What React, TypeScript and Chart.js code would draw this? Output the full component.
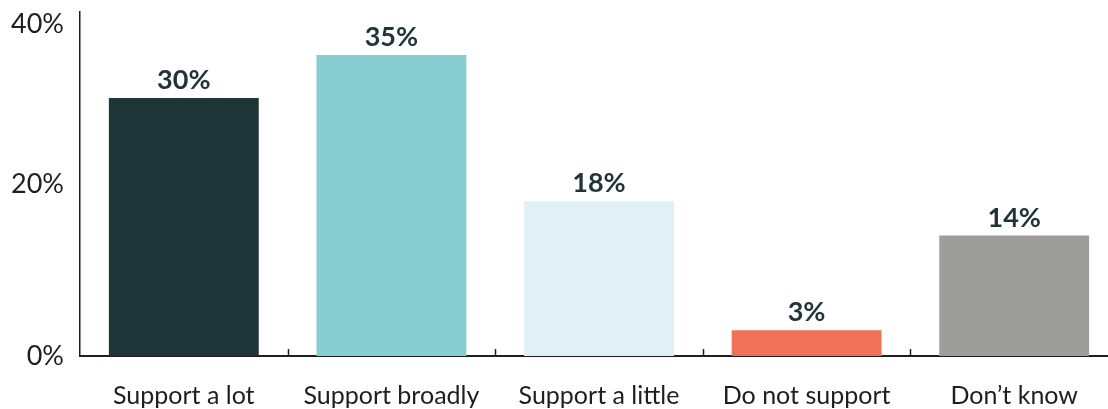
import React, { useEffect, useRef } from "react";
import { Chart, registerables } from "chart.js";

Chart.register(...registerables);

const categories = ["Support a lot", "Support broadly", "Support a little", "Do not support", "Don’t know"];
const values = [30, 35, 18, 3, 14];
const barColors = ["#1f3538", "#88cdd1", "#e0f0f6", "#ef7158", "#9d9d9c"];
const yTickValues = [0, 20, 40];

const FONT = "Lato, 'Noto Sans', sans-serif";
const AXIS_COLOR = "#1e1e1e";
const TEXT_COLOR = "#1e1e1e";
const LABEL_COLOR = "#1f3538";

export default function App() {
  const ref = useRef<HTMLCanvasElement>(null);

  useEffect(() => {
    document.body.style.margin = "0";
    const canvas = ref.current;
    if (!canvas) return;

    const overlay = {
      id: "overlay",
      afterDatasetsDraw(chart: any) {
        const ctx = chart.ctx;
        const meta = chart.getDatasetMeta(0);
        ctx.save();
        ctx.fillStyle = LABEL_COLOR;
        ctx.font = `bold 27px ${FONT}`;
        ctx.textAlign = "center";
        ctx.textBaseline = "alphabetic";
        meta.data.forEach((bar: any, i: number) => {
          ctx.fillText(`${values[i]}%`, bar.x, bar.y - 9);
        });
        ctx.restore();
      },
      afterDraw(chart: any) {
        const ctx = chart.ctx;
        const xs = chart.scales.x;
        const ys = chart.scales.y;
        const bottom = chart.chartArea.bottom;
        ctx.save();
        // category boundary ticks
        ctx.strokeStyle = AXIS_COLOR;
        ctx.lineWidth = 1.5;
        for (let i = 0; i < categories.length - 1; i++) {
          const x = Math.round((xs.getPixelForValue(i) + xs.getPixelForValue(i + 1)) / 2) + 0.5;
          ctx.beginPath();
          ctx.moveTo(x, bottom);
          ctx.lineTo(x, bottom - 7);
          ctx.stroke();
        }
        // y tick labels
        ctx.fillStyle = TEXT_COLOR;
        ctx.font = `27px ${FONT}`;
        ctx.textAlign = "right";
        ctx.textBaseline = "middle";
        yTickValues.forEach((v) => {
          const y = Math.max(ys.getPixelForValue(v), 24);
          ctx.fillText(`${v}%`, 64, y);
        });
        ctx.restore();
      },
    };

    const chart = new Chart(canvas, {
      type: "bar",
      data: {
        labels: categories,
        datasets: [
          {
            data: values,
            backgroundColor: barColors,
            borderWidth: 0,
            barPercentage: 0.722,
            categoryPercentage: 1,
          },
        ],
      },
      options: {
        responsive: false,
        animation: false,
        devicePixelRatio: 1,
        layout: { padding: { top: 12, right: 2, left: 0, bottom: 0 } },
        plugins: {
          legend: { display: false },
          tooltip: { enabled: false },
          title: { display: false },
        },
        scales: {
          x: {
            grid: { display: false, drawTicks: false },
            border: { display: true, color: AXIS_COLOR, width: 2 },
            ticks: {
              color: TEXT_COLOR,
              font: { family: FONT, size: 25 },
              padding: 25,
              maxRotation: 0,
              autoSkip: false,
            },
            afterFit(scale: any) {
              scale.height = 53;
            },
          },
          y: {
            min: 0,
            max: 40,
            grid: { display: false, drawTicks: false },
            border: { display: true, color: AXIS_COLOR, width: 1.5 },
            ticks: { display: false, stepSize: 20 },
            afterFit(scale: any) {
              scale.width = 80;
            },
          },
        },
      },
      plugins: [overlay],
    });

    return () => chart.destroy();
  }, []);

  return (
    <div style={{ width: 1108, height: 409, overflow: "hidden", position: "relative" }}>
      <canvas ref={ref} width={1120} height={409} style={{ display: "block", width: 1120, height: 409 }} />
    </div>
  );
}
